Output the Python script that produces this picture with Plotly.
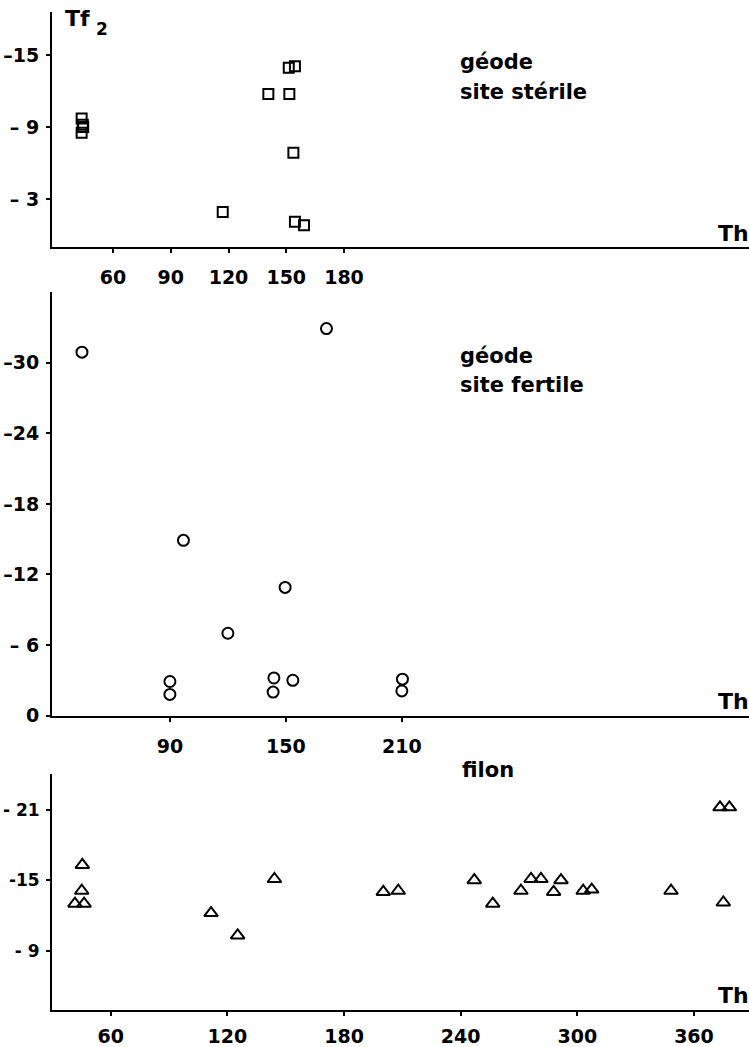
import plotly.graph_objects as go

# ---- data (Th, Tf2) ----
sq_th = [43.7, 44.3, 44.5, 43.7, 117, 140.7, 151.6, 151.3, 154.5, 153.7, 154.5, 159.2]
sq_tf = [-9.72, -9.2, -9.0, -8.53, -1.92, -11.75, -11.75, -13.94, -14.08, -6.86, -1.11, -0.81]

ci_th = [44.5, 171, 97, 149.6, 120, 90, 90, 143.8, 143.4, 153.6, 210.3, 210]
ci_tf = [-30.9, -32.9, -14.9, -10.9, -7.0, -2.9, -1.8, -3.2, -2.0, -3.0, -3.1, -2.1]

tr_th = [45.4, 45.1, 41.6, 46.3, 111.6, 125.3, 144.2, 200.2, 207.9, 247, 256.5, 271,
         276.2, 281.3, 287.8, 291.6, 303, 307.4, 348.2, 375.1, 373.4, 378.2]
tr_tf = [-16.3, -14.1, -13.0, -13.0, -12.2, -10.3, -15.1, -14.0, -14.1, -15.0, -13.0, -14.1,
         -15.1, -15.1, -14.0, -15.0, -14.1, -14.2, -14.1, -13.1, -21.2, -21.2]

top_xticks = [60, 90, 120, 150, 180]
top_yticks = [-15, -9, -3]
top_ylabels = ["\u201315", "\u2013 9", "\u2013 3"]

mid_xticks = [90, 150, 210]
mid_yticks = [-30, -24, -18, -12, -6, 0]
mid_ylabels = ["\u201330", "\u201324", "\u201318", "\u201312", "\u2013 6", "0"]

bot_xticks = [60, 120, 180, 240, 300, 360]
bot_yticks = [-21, -15, -9]
bot_ylabels = ["- 21", "-15", "- 9"]

W, H = 749, 1047
ML, MR, MT, MB = 52, 0, 12, 34
PW = W - ML - MR
PH = H - MT - MB

def px_x(p):
    return (p - ML) / PW

def px_y(p):
    return (H - MB - p) / PH

FONT = "DejaVu Sans"
tick_font = dict(family=FONT, size=19, color="black", weight="bold")

fig = go.Figure()
fig.add_trace(go.Scatter(x=sq_th, y=sq_tf, mode="markers", xaxis="x", yaxis="y",
                         marker=dict(symbol="square-open", size=10, color="black",
                                     line=dict(width=2, color="black"))))
fig.add_trace(go.Scatter(x=ci_th, y=ci_tf, mode="markers", xaxis="x2", yaxis="y2",
                         marker=dict(symbol="circle-open", size=11, color="black",
                                     line=dict(width=2, color="black"))))
fig.add_trace(go.Scatter(x=tr_th, y=tr_tf, mode="markers", xaxis="x3", yaxis="y3",
                         marker=dict(symbol="triangle-up-open", size=12, color="black",
                                     line=dict(width=2, color="black"))))

def xax(rng, ticks, anchor, standoff):
    return dict(range=rng, tickvals=ticks, ticktext=[str(t) for t in ticks],
                showline=True, linecolor="black", linewidth=2, ticks="outside",
                ticklen=4, tickwidth=2, tickcolor="black", showgrid=False,
                zeroline=False, tickfont=tick_font, anchor=anchor,
                ticklabelstandoff=standoff, domain=[0, 1])

def yax(rng, ticks, labels, dom, anchor, size=19):
    return dict(range=rng, tickvals=ticks, ticktext=labels, showline=True,
                linecolor="black", linewidth=2, ticks="outside", ticklen=4,
                tickwidth=2, tickcolor="black", showgrid=False, zeroline=False,
                tickfont=dict(family=FONT, size=size, color="black", weight="bold"),
                domain=dom, anchor=anchor, ticklabelstandoff=3)

fig.update_layout(
    width=W, height=H, margin=dict(l=ML, r=MR, t=MT, b=MB),
    paper_bgcolor="white", plot_bgcolor="white", showlegend=False,
    xaxis=xax([28.3, 390.4], top_xticks, "y", 9),
    yaxis=yax([0.97, -18.6], top_yticks, top_ylabels, [px_y(247.3), 1.0], "x"),
    xaxis2=xax([29.0, 389.6], mid_xticks, "y2", 9),
    yaxis2=yax([0, -36.0], mid_yticks, mid_ylabels, [px_y(717.7), px_y(293)], "x2"),
    xaxis3=xax([29.8, 388.3], bot_xticks, "y3", 4),
    yaxis3=yax([-3.95, -24.0], bot_yticks, bot_ylabels, [0, px_y(776.7)], "x3", size=17),
)

def label(text, x, y, xanchor="left", yanchor="middle", size=21):
    fig.add_annotation(text=text, x=px_x(x), y=px_y(y), xref="paper", yref="paper",
                       xanchor=xanchor, yanchor=yanchor, showarrow=False,
                       font=dict(family=FONT, size=size, color="black", weight="bold"))

label("Tf", 63, 19, size=22)
label("2", 94, 29, size=17)
label("géode", 458, 62)
label("site stérile", 458, 92)
label("géode", 458, 357)
label("site fertile", 458, 386)
label("filon", 488, 772, xanchor="center")
label("Th", 751, 234, xanchor="right", size=22)
label("Th", 751, 704, xanchor="right", size=22)
label("Th", 751, 998, xanchor="right", size=22)

fig.write_html("out.html")
